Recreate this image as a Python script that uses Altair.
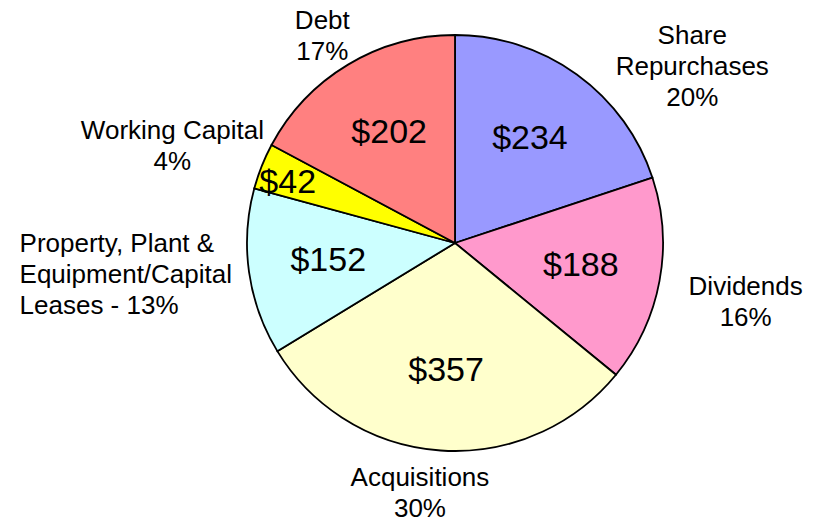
import altair as alt
import pandas as pd

categories = ["Share Repurchases", "Dividends", "Acquisitions",
              "Property, Plant & Equipment/Capital Leases", "Working Capital", "Debt"]
values = [234, 188, 357, 152, 42, 202]
value_labels = ["$234", "$188", "$357", "$152", "$42", "$202"]
outer_labels = ["Share\nRepurchases\n20%", "Dividends\n16%", "Acquisitions\n30%",
                "Property, Plant &\nEquipment/Capital\nLeases - 13%", "Working Capital\n4%", "Debt\n17%"]
colors = ["#9999FF", "#FF99CC", "#FFFFCC", "#CCFFFF", "#FFFF00", "#FF8080"]

df = pd.DataFrame({
    "idx": list(range(len(categories))),
    "category": categories,
    "value": values,
    "vlabel": value_labels,
    "outer": outer_labels,
})

CX, CY = 447, 235
FONT = "Liberation Sans"

base = alt.Chart(df).encode(
    theta=alt.Theta("value:Q", stack=True),
    order=alt.Order("idx:Q"),
    x=alt.value(CX),
    y=alt.value(CY),
)

pie = base.mark_arc(outerRadius=208, stroke="black", strokeWidth=1.8).encode(
    color=alt.Color("category:N", scale=alt.Scale(domain=categories, range=colors), legend=None)
)

layers = [pie]

# value labels inside slices
layers.append(base.mark_text(radius=128, font=FONT, fontSize=34, color="black",
                             align="center", baseline="middle").encode(
    text=alt.condition(alt.datum.category != "Working Capital", "vlabel:N", alt.value(""))
))
layers.append(base.mark_text(radius=180, dy=6, font=FONT, fontSize=34, color="black",
                             align="center", baseline="middle").encode(
    text=alt.condition(alt.datum.category == "Working Capital", "vlabel:N", alt.value(""))
))

# outer category labels (nudged from slice mid-angle); first line sits at the anchor
nudges = {
    "Share Repurchases": (85, 4, "center"),
    "Dividends": (35, -3, "center"),
    "Acquisitions": (-17, -24, "center"),
    "Property, Plant & Equipment/Capital Leases": (-178, -35, "left"),
    "Working Capital": (-41, -16, "center"),
    "Debt": (1, 1, "center"),
}
for cat, (dx, dy, al) in nudges.items():
    layers.append(base.mark_text(radius=260, dx=dx, dy=dy, font=FONT, fontSize=26,
                                 lineHeight=31, lineBreak="\n", color="black",
                                 align=al, baseline="middle").encode(
        text=alt.condition(alt.datum.category == cat, "outer:N", alt.value(""))
    ))

chart = alt.layer(*layers).properties(
    width=812, height=514, autosize=alt.AutoSizeParams(type="none"), padding=0
).configure_view(stroke=None)

chart.save("out.html", embed_options={"renderer": "svg", "actions": False})
